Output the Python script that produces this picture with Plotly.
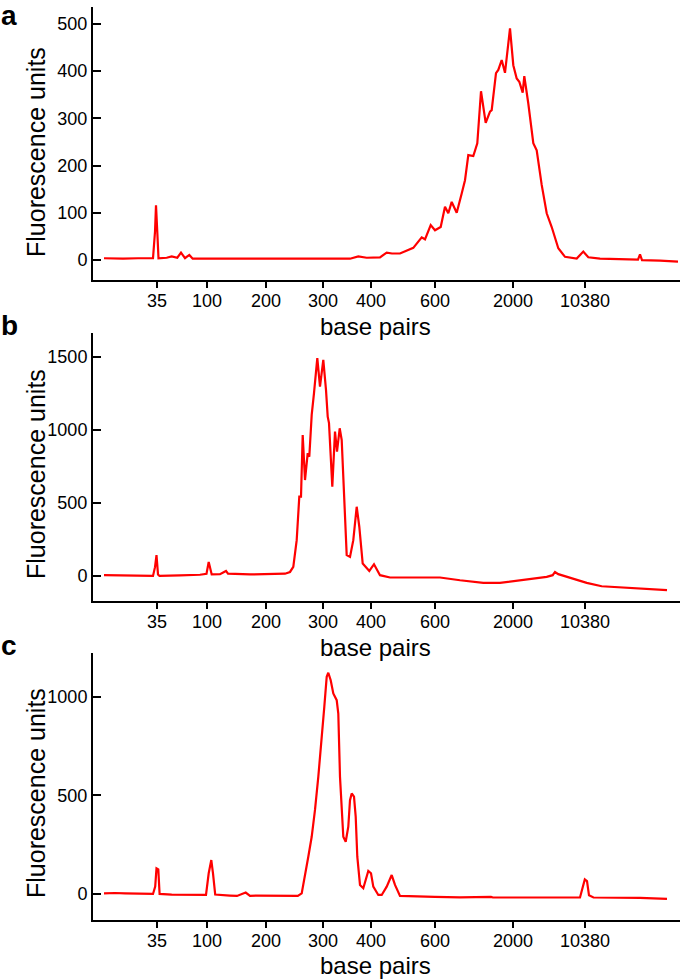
import plotly.graph_objects as go

# ---- data (migration time, arbitrary seconds; fluorescence units) ----
tick_pos = [21.4, 26.4, 32.3, 38.0, 42.8, 49.2, 57.0, 64.2]
tick_labels = ["35", "100", "200", "300", "400", "600", "2000", "10380"]

t_a = [16.1, 18.0, 19.5, 21.0, 21.2, 21.3, 21.45, 21.55, 22.37, 22.87, 23.43, 23.8, 24.2, 24.63, 24.97,
       27.5, 30.7, 33.0, 35.7, 38.5, 40.7, 41.53, 42.37, 43.7, 44.37, 44.9, 45.7, 47.03, 47.87, 48.2, 48.77,
       49.2, 49.77, 50.2, 50.53, 50.87, 51.37, 51.87, 52.2, 52.53, 53.03, 53.43, 53.8, 54.27,
       54.7, 54.87, 55.3, 55.53, 55.87, 56.2, 56.7, 57.03, 57.37, 57.63, 57.97, 58.13, 58.53,
       59.03, 59.37, 59.87, 60.37, 60.87, 61.53, 62.2, 63.37, 64.03, 64.53, 65.7, 67.7, 69.5,
       69.7, 69.9, 71.7, 73.5]
fu_a = [4, 3, 4, 4, 60, 116, 50, 4, 5, 8, 5, 16, 4, 11, 3,
        3, 2, 3, 3, 2, 3, 8, 5, 6, 16, 14, 14, 26, 48, 44, 74,
        63, 70, 113, 99, 123, 100, 141, 169, 222, 220, 247, 357, 290,
        314, 317, 395, 402, 423, 396, 490, 412, 384, 377, 354, 389, 331,
        247, 232, 159, 99, 70, 25, 7, 3.5, 18, 6, 3, 2, 1,
        12, 0, -1, -3]

t_b = [16.1, 18.7, 21.0, 21.2, 21.35, 21.5, 21.65, 23.7, 25.7, 26.35, 26.57, 26.87, 27.7,
       28.3, 28.5, 30.7, 32.7, 34.2, 34.7, 35.03, 35.37, 35.63, 35.8, 35.97, 36.2, 36.47,
       36.63, 36.87, 37.1, 37.43, 37.7, 38.03, 38.3, 38.47, 38.6, 38.93, 39.2, 39.4, 39.67,
       39.87, 40.37, 40.7, 41.03, 41.37, 41.63, 41.97, 42.63, 43.1, 43.7, 44.7, 47.7, 49.7,
       51.7, 54.03, 55.7, 58.03, 60.37, 60.97, 61.2, 61.53, 63.03, 64.37, 65.87, 67.7, 70.03,
       72.4]
fu_b = [5, 2, 0, 60, 142, 10, 0, 3, 8, 15, 96, 10, 12,
        34, 15, 10, 10, 15, 27, 62, 245, 543, 543, 966, 657, 841,
        817, 1104, 1253, 1493, 1298, 1481, 1275, 1092, 1047, 611, 989, 852, 1012,
        932, 142, 130, 245, 474, 337, 85, 34, 80, 5, -11, -11, -11,
        -30, -48, -48, -30, -7, 5, 27, 12, -18, -48, -71, -80, -89,
        -98]

t_c = [16.1, 17.2, 18.2, 21.0, 21.22, 21.35, 21.53, 21.66, 22.87, 24.7, 26.3, 26.57, 26.83,
       27.0, 27.22, 28.7, 29.4, 30.27, 30.7, 31.35, 35.48, 35.87, 36.2, 36.53, 36.87, 37.2,
       37.53, 37.87, 38.13, 38.37, 38.53, 38.77, 39.03, 39.37, 39.53, 39.7, 39.87, 40.03,
       40.27, 40.53, 40.7, 40.87, 41.1, 41.27, 41.43, 41.7, 42.03, 42.3, 42.53, 42.8, 43.03,
       43.53, 43.87, 44.37, 44.87, 45.2, 45.7, 49.18, 51.7, 54.8, 55.0, 63.7, 63.96, 64.18,
       64.4, 64.6, 65.05, 69.7, 72.4]
fu_c = [3, 5, 3, 0, 37, 130, 125, 0, -3, -5, -5, 105, 172,
        105, -3, -8, -10, 7, -10, -8, -10, 3, 88, 189, 290, 426,
        594, 780, 949, 1101, 1122, 1084, 1017, 983, 915, 594, 409, 290,
        265, 341, 476, 510, 493, 392, 189, 46, 29, 71, 117, 105, 37,
        -5, -5, 37, 96, 46, -10, -15, -17, -15, -18, -18, 37, 74,
        65, -7, -18, -20, -25]

yticks_a = [0, 100, 200, 300, 400, 500]
yticks_b = [0, 500, 1000, 1500]
yticks_c = [0, 500, 1000]

# ---- figure ----
FONT = "Liberation Sans, Arial, Helvetica, sans-serif"
RED = "#ff0000"
W, H = 681, 979
ML, MR, MT, MB = 93, 1, 7, 59
PH = H - MT - MB

def py(p):
    return (H - MB - p) / PH

fig = go.Figure()
for i, (t, fu) in enumerate([(t_a, fu_a), (t_b, fu_b), (t_c, fu_c)], start=1):
    fig.add_trace(go.Scatter(x=t, y=fu, mode="lines",
                             line=dict(color=RED, width=2.2),
                             xaxis="x" if i == 1 else f"x{i}",
                             yaxis="y" if i == 1 else f"y{i}",
                             showlegend=False, hoverinfo="skip"))

xcommon = dict(range=[15, 73.7], tickmode="array", tickvals=tick_pos, ticktext=tick_labels,
               showline=True, linecolor="black", linewidth=2, ticks="outside", ticklen=6,
               tickwidth=2, tickcolor="black", showgrid=False, zeroline=False,
               ticklabelstandoff=-3,
               tickfont=dict(family=FONT, size=18, color="black"))
ycommon = dict(showline=True, linecolor="black", linewidth=2, ticks="inside", ticklen=8,
               tickwidth=2, tickcolor="black", showgrid=False, zeroline=False,
               tickfont=dict(family=FONT, size=18, color="black"), tickmode="array")

axis_bottoms = [280, 601, 920]
doms = [(py(280), py(7)), (py(601), py(333)), (py(920), py(653))]
layout = dict(width=W, height=H, margin=dict(l=ML, r=MR, t=MT, b=MB),
              plot_bgcolor="white", paper_bgcolor="white",
              font=dict(family=FONT, color="black"))
yranges = [[-42, 535], [-172, 1665], [-132, 1222]]
yticks = [yticks_a, yticks_b, yticks_c]
for i in range(3):
    xs = "xaxis" if i == 0 else f"xaxis{i+1}"
    ys = "yaxis" if i == 0 else f"yaxis{i+1}"
    layout[xs] = dict(xcommon, domain=[0, 1], anchor="y" if i == 0 else f"y{i+1}")
    layout[ys] = dict(ycommon, domain=list(doms[i]), range=yranges[i], tickvals=yticks[i],
                      anchor="x" if i == 0 else f"x{i+1}")
fig.update_layout(**layout)

ann = []
ytitle_centers = [152, 474, 793]
xtitle_centers = [326, 647, 965]
letters = [("a", 15), ("b", 325), ("c", 645)]
for i in range(3):
    ann.append(dict(text="base pairs", xref="paper", yref="paper",
                    x=(375 - ML) / (W - ML - MR), y=py(xtitle_centers[i]),
                    xanchor="center", yanchor="middle", showarrow=False,
                    font=dict(family=FONT, size=24, color="black")))
    ann.append(dict(text="Fluorescence units", xref="paper", yref="paper",
                    x=(36 - ML) / (W - ML - MR), y=py(ytitle_centers[i]),
                    xanchor="center", yanchor="middle", textangle=-90, showarrow=False,
                    font=dict(family=FONT, size=25, color="black")))
    ann.append(dict(text="<b>%s</b>" % letters[i][0], xref="paper", yref="paper",
                    x=(9 - ML) / (W - ML - MR), y=py(letters[i][1]),
                    xanchor="center", yanchor="middle", showarrow=False,
                    font=dict(family=FONT, size=28, color="black")))
fig.update_layout(annotations=ann)

fig.write_html("out.html", config={"displayModeBar": False},
               post_script="document.body.style.margin='0';document.body.style.overflow='hidden';")
